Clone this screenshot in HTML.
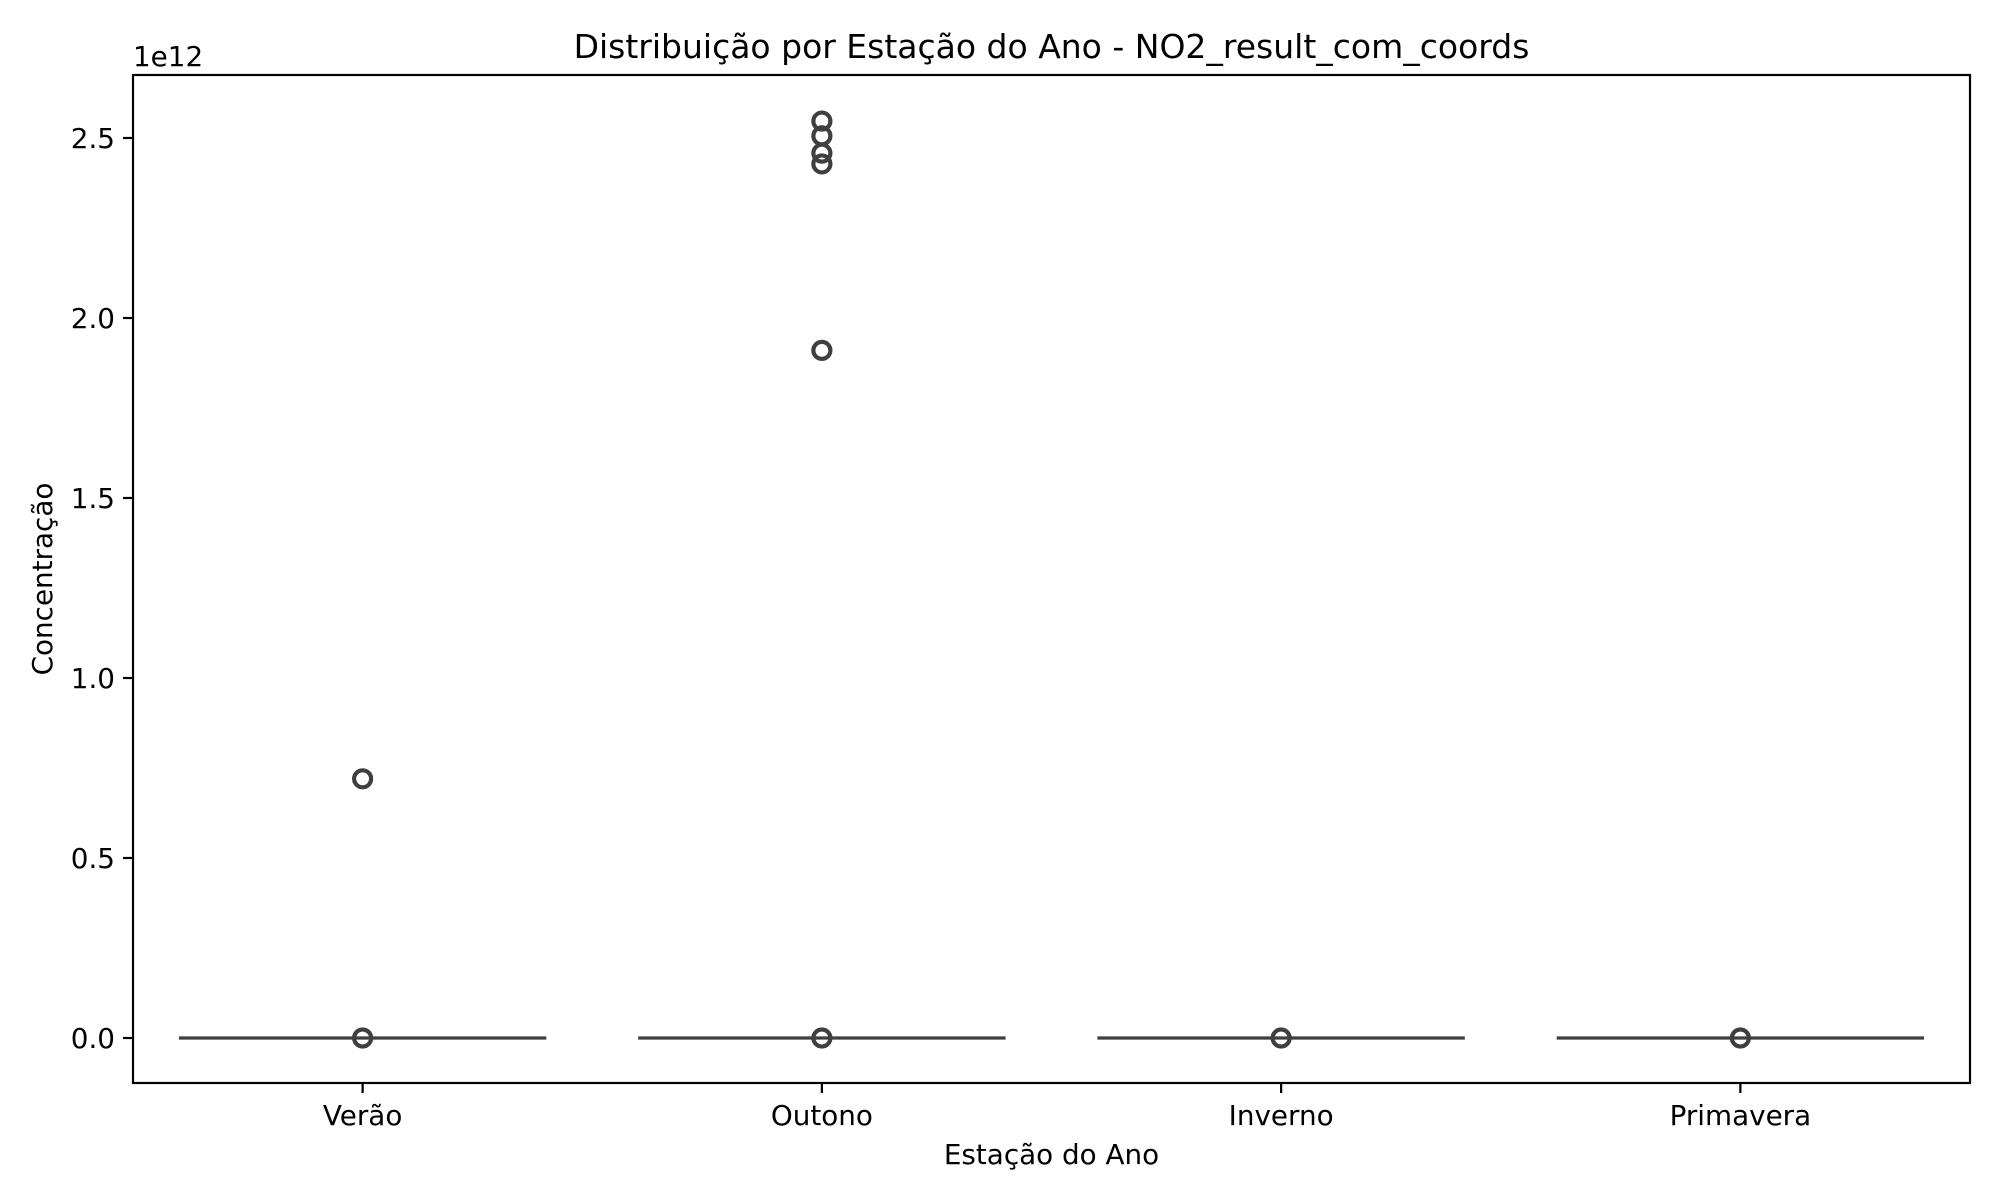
<!DOCTYPE html>
<html><head><meta charset="utf-8"><style>
body{margin:0;background:#fff}
svg{display:block;font-family:"DejaVu Sans","Liberation Sans",sans-serif}
</style></head><body>
<svg id="chart" width="2000" height="1200" viewBox="0 0 2000 1200">
<rect width="2000" height="1200" fill="#fff"/>
<text x="1051.5" y="58" font-size="33" text-anchor="middle">Distribuição por Estação do Ano - NO2_result_com_coords</text>
<g id="marks"></g>
<g id="axes"></g>
<text x="133" y="66" font-size="27.8">1e12</text>
<text x="1051.5" y="1164" font-size="27.8" text-anchor="middle">Estação do Ano</text>
<text transform="translate(52,579) rotate(-90)" font-size="27.8" text-anchor="middle">Concentração</text>
</svg>
<script>
const categories = ["Verão","Outono","Inverno","Primavera"];
const medians = [0,0,0,0];
const outliers = [[0.72,0],[2.547,2.506,2.458,2.428,1.91,0],[0],[0]];
const yTicks = [0,0.5,1.0,1.5,2.0,2.5];
const yTickLabels = ["0.0","0.5","1.0","1.5","2.0","2.5"];

const L=133,R=1970,T=75,B=1083;
const band=(R-L)/categories.length;
function xPos(i){return L+band*(i+0.5);}
function yPos(v){return 1038-v*360;}
const NS="http://www.w3.org/2000/svg";
function mk(tag,attrs,parent){const e=document.createElementNS(NS,tag);for(const k in attrs)e.setAttribute(k,attrs[k]);parent.appendChild(e);return e;}
const marks=document.getElementById('marks'),axes=document.getElementById('axes');
categories.forEach((c,i)=>{
  const x=xPos(i),hw=band*0.4;
  const ln=mk('line',{x1:x-hw,x2:x+hw,y1:yPos(medians[i]),y2:yPos(medians[i]),stroke:'#3f3f3f','stroke-width':3.2},marks);
  
  
  outliers[i].forEach(v=>{
    const o=mk('circle',{cx:x,cy:yPos(v),r:8.5,fill:'none',stroke:'#3f3f3f','stroke-width':4.2},marks);
    
    
  });
  const t=mk('line',{x1:x,x2:x,y1:B,y2:B+10,stroke:'#000','stroke-width':2.2},axes);
  
  
  const tl=mk('text',{x:x,y:B+42,'font-size':27.8,'text-anchor':'middle'},axes);
  tl.textContent=c;
  
  
});
yTicks.forEach((v,i)=>{
  const y=yPos(v);
  const t=mk('line',{x1:L-10,x2:L,y1:y,y2:y,stroke:'#000','stroke-width':2.2},axes);
  
  
  const tl=mk('text',{x:L-18,y:y+10,'font-size':27.8,'text-anchor':'end'},axes);
  tl.textContent=yTickLabels[i];
  
  
});
const fr=mk('rect',{x:L,y:T,width:R-L,height:B-T,fill:'none',stroke:'#000','stroke-width':2.2},axes);


</script>
</body></html>
